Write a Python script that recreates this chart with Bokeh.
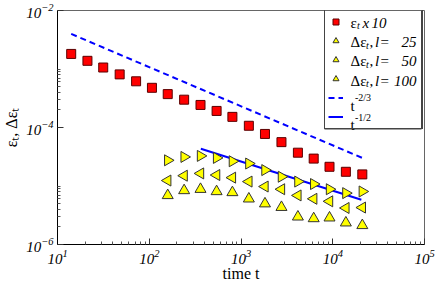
import numpy as np
from bokeh.plotting import figure
from bokeh.models import (Range1d, FixedTicker, LogTickFormatter, Label, Legend,
                          LegendItem, BoxAnnotation)
from bokeh.core.properties import value
from bokeh.embed import file_html
from bokeh.resources import INLINE

# ---- data ----
t = [14.1, 21.2, 31.5, 47.6, 71.9, 107, 159, 240, 362, 542, 806, 1218,
     1825, 2760, 4170, 6200, 9220, 13900, 21000]
eps_x10 = [1.81e-3, 1.38e-3, 1.06e-3, 8.09e-4, 6.16e-4, 4.77e-4, 3.72e-4,
           2.99e-4, 2.43e-4, 1.92e-4, 1.52e-4, 1.07e-4, 7.76e-5, 5.62e-5,
           3.71e-5, 2.94e-5, 2.13e-5, 1.75e-5, 1.58e-5]
t_delta = [159, 240, 362, 542, 806, 1218, 1825, 2760, 4170, 6200, 9220, 13900, 21000]
d_l25 = [2.75e-5, 3.14e-5, 3.27e-5, 3.02e-5, 2.65e-5, 2.42e-5, 1.87e-5,
         1.44e-5, 1.19e-5, 1.08e-5, 8.81e-6, 7.55e-6, 8.06e-6]
d_l50 = [1.24e-5, 1.50e-5, 1.64e-5, 1.54e-5, 1.39e-5, 1.19e-5, 9.79e-6,
         8.81e-6, 6.90e-6, 6.04e-6, 5.47e-6, 4.21e-6, 4.28e-6]
d_l100 = [6.90e-6, 8.38e-6, 8.81e-6, 8.06e-6, 7.75e-6, 6.04e-6, 4.98e-6,
          4.33e-6, 2.97e-6, 2.78e-6, 2.86e-6, 2.35e-6, 2.12e-6]
guide23_t = [14.1, 21000]
guide23_y = [3.98e-3, 3.02e-5]
guide12_t = [365, 20500]
guide12_y = [4.34e-5, 5.82e-6]
l_values = ["25", "50", "100"]

x_major = [1e1, 1e2, 1e3, 1e4, 1e5]
x_minor = [k * 10.0 ** d for d in range(1, 5) for k in range(2, 10)]
y_major = [1e-6, 1e-4, 1e-2]
y_minor = [k * 1e-6 for k in range(2, 11)] + [k * 1e-4 for k in range(2, 11)]

x_title = "time t"
y_title = "εₜ, Δεₜ"

SERIF = "Liberation Serif"

p = figure(width=436, height=284, x_axis_type="log", y_axis_type="log",
           x_range=Range1d(10, 1e5), y_range=Range1d(1e-6, 1e-2),
           output_backend="svg", toolbar_location=None,
           min_border_left=52, min_border_right=12, min_border_top=10,
           min_border_bottom=37)
p.xgrid.visible = False
p.ygrid.visible = False
p.outline_line_color = "#666666"
p.outline_line_width = 1
p.background_fill_color = "white"
p.border_fill_color = "white"

p.xaxis.ticker = FixedTicker(ticks=x_major, minor_ticks=x_minor)
p.yaxis.ticker = FixedTicker(ticks=y_major, minor_ticks=y_minor)
for ax in (p.xaxis[0], p.yaxis[0]):
    ax.formatter = LogTickFormatter()
    ax.major_tick_in = 6
    ax.major_tick_out = 0
    ax.minor_tick_in = 3
    ax.minor_tick_out = 0
    ax.major_tick_line_color = "#333333"
    ax.minor_tick_line_color = "#555555"
    ax.axis_line_color = "black"
    ax.major_label_text_font = SERIF
    ax.major_label_text_font_style = "italic"
    ax.major_label_text_font_size = "15px"
    ax.major_label_text_color = "black"
    ax.axis_label_text_font = SERIF
    ax.axis_label_text_font_style = "normal"
    ax.axis_label_text_font_size = "16px"
    ax.axis_label_text_color = "black"
p.xaxis.major_label_standoff = 5
p.yaxis.major_label_standoff = 4
p.xaxis.axis_label = x_title
p.yaxis.axis_label = y_title
p.xaxis.axis_label_standoff = -2
p.yaxis.axis_label_standoff = 3

# guide lines
r23 = p.line(guide23_t, guide23_y, line_color="#0000ff", line_width=2, line_dash="6 4")
r12 = p.line(guide12_t, guide12_y, line_color="#0000ff", line_width=2)

# markers
r_sq = p.scatter(t, eps_x10, marker="square", size=9, fill_color="#ff0000",
                 line_color="#5a0000", line_width=1)
r25 = p.scatter(t_delta, d_l25, marker="triangle", angle=-np.pi / 2, size=11,
                fill_color="#ffff00", line_color="#333333", line_width=1)
r50 = p.scatter(t_delta, d_l50, marker="triangle", angle=np.pi / 2, size=11,
                fill_color="#ffff00", line_color="#333333", line_width=1)
r100 = p.scatter(t_delta, d_l100, marker="triangle", size=11,
                 fill_color="#ffff00", line_color="#333333", line_width=1)

FX0, FY0 = 52, 247  # frame left / bottom in the picture

# legend frame outline (screen units, relative to the frame)
p.add_layout(BoxAnnotation(left=319 - FX0, right=416 - FX0,
                           top=FY0 - 11, bottom=FY0 - 131.5,
                           left_units="screen", right_units="screen",
                           top_units="screen", bottom_units="screen",
                           fill_alpha=0.0, line_color="#444444",
                           line_alpha=1.0, line_width=1))

legend = Legend(items=[LegendItem(label=value(""), renderers=[r]) for r in
                       (r_sq, r25, r50, r100, r23, r12)],
                location=(267, 115), margin=0, padding=3, spacing=2,
                glyph_width=15, glyph_height=17, label_height=17,
                label_width=68, label_standoff=8,
                label_text_font_size="8px",
                border_line_color="#444444", border_line_alpha=1.0,
                border_line_width=1, background_fill_alpha=0.0)
p.add_layout(legend)


def txt(s, X, Y, size=15, style="normal", align="left"):
    p.add_layout(Label(x=X - FX0, y=FY0 - Y, x_units="screen", y_units="screen",
                       text=s, text_font=SERIF, text_font_size=f"{size}px",
                       text_font_style=style, text_align=align,
                       text_baseline="alphabetic", text_color="black"))


row_base = [25.0, 44.5, 63.8, 83.2]
txt("ε", 345, row_base[0])
txt("t", 351.5, row_base[0] + 3, size=10, style="italic")
txt("x", 357, row_base[0], style="italic")
txt("10", 366, row_base[0], style="italic")
for yb, lv in zip(row_base[1:], l_values):
    txt("Δε", 345, yb)
    txt("t", 360.5, yb + 3, size=10, style="italic")
    txt(",", 364, yb)
    txt("l", 369.5, yb, style="italic")
    txt("=", 375, yb)
    txt(lv, 411, yb, style="italic", align="right")
txt("t", 345, 108.5)
txt("-2/3", 349.5, 100, size=10)
txt("t", 345, 127.5)
txt("-1/2", 349.5, 119.5, size=10)

open("out.html", "w").write(file_html(p, INLINE))
